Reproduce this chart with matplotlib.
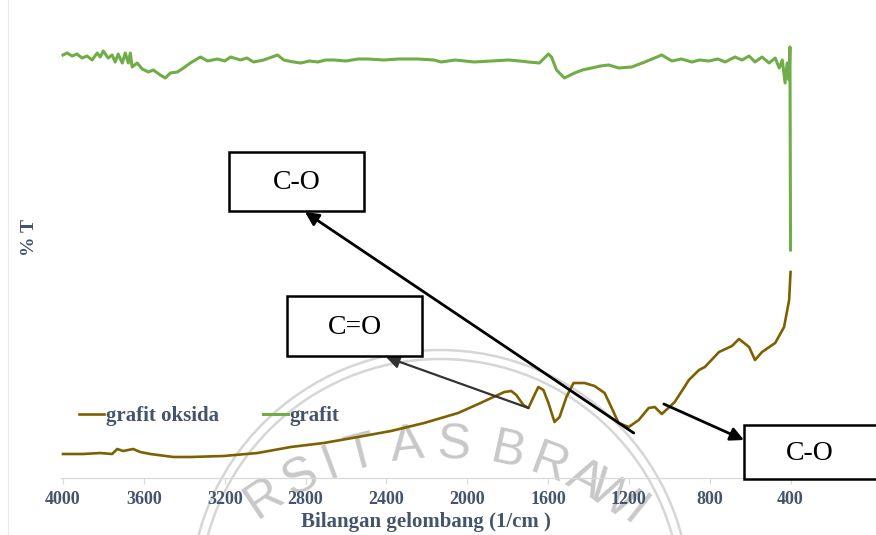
import numpy as np
import matplotlib
matplotlib.use("Agg")
import matplotlib.pyplot as plt
from matplotlib.patches import Rectangle, Arc

# FTIR spectra: wavenumber (1/cm) and transmittance (%T, arbitrary offset)
go_wavenumber = [4000, 3901, 3816, 3757, 3732, 3702, 3653, 3618, 3568, 3454,
                 3370, 3206, 3037, 2873, 2710, 2541, 2377, 2213, 2045, 1945,
                 1881, 1816, 1782, 1757, 1722, 1697, 1672, 1648, 1623, 1598,
                 1568, 1543, 1509, 1474, 1419, 1370, 1320, 1285, 1251, 1201,
                 1151, 1102, 1072, 1037, 973, 903, 853, 824, 754, 690,
                 655, 605, 576, 541, 476, 432, 407, 400]
go_transmittance = [6.0, 6.0, 6.25, 6.0, 7.25, 6.75, 7.25, 6.5, 6.0, 5.25,
                    5.25, 5.5, 6.25, 7.75, 8.75, 10.25, 11.75, 13.75, 16.25, 18.5,
                    20.0, 21.5, 21.75, 20.75, 18.25, 17.5, 20.25, 22.75, 22.0, 18.75,
                    14.0, 15.25, 20.25, 23.75, 23.75, 23.0, 21.25, 17.5, 13.75, 12.75,
                    14.5, 17.5, 17.75, 16.0, 19.0, 24.5, 27.0, 27.75, 31.5, 33.0,
                    34.75, 32.75, 29.5, 31.5, 33.75, 37.75, 44.5, 51.5]

g_wavenumber = [4000, 3980, 3955, 3931, 3906, 3881, 3856, 3831, 3816, 3801,
                3777, 3757, 3742, 3727, 3707, 3692, 3677, 3667, 3658, 3633,
                3608, 3578, 3553, 3519, 3494, 3469, 3434, 3404, 3370, 3320,
                3285, 3236, 3200, 3171, 3122, 3090, 3057, 3007, 2938, 2908,
                2859, 2824, 2780, 2739, 2700, 2660, 2600, 2540, 2491, 2412,
                2340, 2243, 2164, 2129, 2060, 1965, 1880, 1796, 1740, 1697,
                1643, 1598, 1583, 1558, 1519, 1469, 1430, 1385, 1340, 1300,
                1250, 1186, 1121, 1037, 987, 940, 888, 850, 804, 760,
                724, 675, 640, 605, 576, 541, 506, 476, 456, 441,
                427, 417, 407, 403, 400]
g_transmittance = [105.75, 106.25, 105.5, 106.0, 105.0, 105.5, 104.5, 106.25, 105.25, 106.75,
                   105.0, 105.75, 104.0, 106.0, 103.75, 106.25, 103.75, 106.25, 102.75, 103.75,
                   102.25, 101.5, 102.0, 100.75, 100.0, 101.25, 101.5, 102.5, 103.75, 105.25,
                   104.25, 104.75, 104.25, 105.25, 104.5, 105.0, 104.0, 104.5, 105.75, 104.5,
                   104.0, 103.75, 104.25, 104.0, 104.5, 104.5, 104.25, 104.75, 104.75, 104.5,
                   104.75, 104.75, 104.5, 104.0, 104.5, 104.0, 104.25, 104.5, 104.25, 104.0,
                   103.75, 106.0, 105.25, 102.0, 100.0, 101.25, 102.0, 102.5, 103.0, 103.25,
                   102.5, 102.75, 104.0, 105.75, 104.25, 104.75, 104.0, 104.5, 104.25, 104.75,
                   104.0, 105.25, 104.5, 105.5, 104.0, 105.25, 103.75, 105.0, 102.5, 104.5,
                   98.75, 103.75, 99.5, 107.75, 57.0]

x_ticks = [4000, 3600, 3200, 2800, 2400, 2000, 1600, 1200, 800, 400]
series_labels = ["grafit oksida", "grafit"]

# band assignments: (label, (wavenumber, %T) on the spectrum)
band_labels = ["C-O", "C=O", "C-O"]
band_points = [(1176, 11.25), (1697, 17.5), (1027, 18.5)]

BROWN = "#7F6000"
GREEN = "#70AD47"
TEXT = "#44546A"
W, H = 876, 535

plt.rcParams["font.family"] = ["Liberation Serif", "DejaVu Serif"]
fig = plt.figure(figsize=(W / 100, H / 100), dpi=100, facecolor="white")

# faint university seal in the background
bg = fig.add_axes([0, 0, 1, 1], zorder=0)
bg.set_xlim(0, W)
bg.set_ylim(H, 0)
bg.axis("off")
seal_c = (440, 600)
for r in (250, 241):
    bg.add_patch(Arc(seal_c, 2 * r, 2 * r, theta1=0, theta2=360,
                     color="#d6d6d6", lw=1.8))
seal_letters = "RSITASBRAWI"
seal_angles = [124, 116.5, 110.5, 104.5, 96, 87.5, 77.5, 69.5, 62.5, 57, 51.5]
tc, tr = (440, 758), 313
for ch, ang in zip(seal_letters, seal_angles):
    a = np.deg2rad(ang)
    bg.text(tc[0] + tr * np.cos(a), tc[1] - tr * np.sin(a), ch,
            rotation=ang - 90, ha="center", va="center", fontsize=36,
            family="Liberation Sans", color="#c8c8c8", zorder=0)
bg.plot([8, 8], [0, H], color="#ececec", lw=1)

# main spectrum axes
ax = fig.add_axes([61 / W, (H - 478) / H, (815 - 61) / W, 438 / H], zorder=1)
ax.patch.set_alpha(0)
ax.plot(go_wavenumber, go_transmittance, color=BROWN, lw=1.9,
        label=series_labels[0], solid_joinstyle="round")
ax.plot(g_wavenumber, g_transmittance, color=GREEN, lw=2.2,
        label=series_labels[1], solid_joinstyle="round")
ax.set_xlim(4010, 279)
ax.set_ylim(0, 109.5)
for s in ("top", "right", "left"):
    ax.spines[s].set_visible(False)
ax.spines["bottom"].set_color("#D9D9D9")
ax.spines["bottom"].set_linewidth(0.9)
ax.set_yticks([])
ax.set_xticks(x_ticks)
ax.set_xticklabels([str(t) for t in x_ticks])
ax.tick_params(axis="x", length=4, width=0.8, color="#D9D9D9", pad=5,
               labelsize=13, labelcolor=TEXT)
for lab in ax.get_xticklabels():
    lab.set_fontweight("bold")

leg = ax.legend(loc="center left", bbox_to_anchor=(79 / W, (H - 416) / H),
                bbox_transform=fig.transFigure, ncol=2, frameon=False,
                borderpad=0, borderaxespad=0, handlelength=1.2,
                handletextpad=0.1, columnspacing=2.1,
                prop={"family": "Liberation Serif", "weight": "bold", "size": 15})
for t in leg.get_texts():
    t.set_color(TEXT)

fig.text(426 / W, (H - 522) / H, "Bilangan gelombang (1/cm )", ha="center",
         va="center", fontsize=15, fontweight="bold", color=TEXT)
fig.text(30 / W, (H - 237) / H, "% T", ha="center", va="center",
         rotation=90, fontsize=14, fontweight="bold", color=TEXT)

# annotation boxes and arrows
ov = fig.add_axes([0, 0, 1, 1], zorder=2)
ov.set_xlim(0, W)
ov.set_ylim(H, 0)
ov.axis("off")
boxes = [(229, 152, 364, 211), (287, 296, 422, 356), (744, 425, 880, 479)]
label_x = [296.5, 354.5, 810]
tips = [(305, 212), (386, 357), (744, 440)]
arrow_cols = ["black", "#333333", "black"]
arrow_lw = [2.0, 1.6, 2.0]
for lab, (x0, y0, x1, y1), lx, tip, pt, col, lw in zip(
        band_labels, boxes, label_x, tips, band_points, arrow_cols, arrow_lw):
    ov.add_patch(Rectangle((x0, y0), x1 - x0, y1 - y0, facecolor="white",
                           edgecolor="black", lw=1.8, zorder=3))
    ov.text(lx, (y0 + y1) / 2 + 1, lab, ha="center", va="center",
            fontsize=20, color="black", zorder=4)
    ov.annotate("", xy=tip, xycoords="data", xytext=pt, textcoords=ax.transData,
                arrowprops=dict(arrowstyle="-|>", color=col, lw=lw,
                                mutation_scale=20, shrinkA=0, shrinkB=0),
                zorder=2)

fig.savefig("out.png", dpi=100, facecolor="white")
